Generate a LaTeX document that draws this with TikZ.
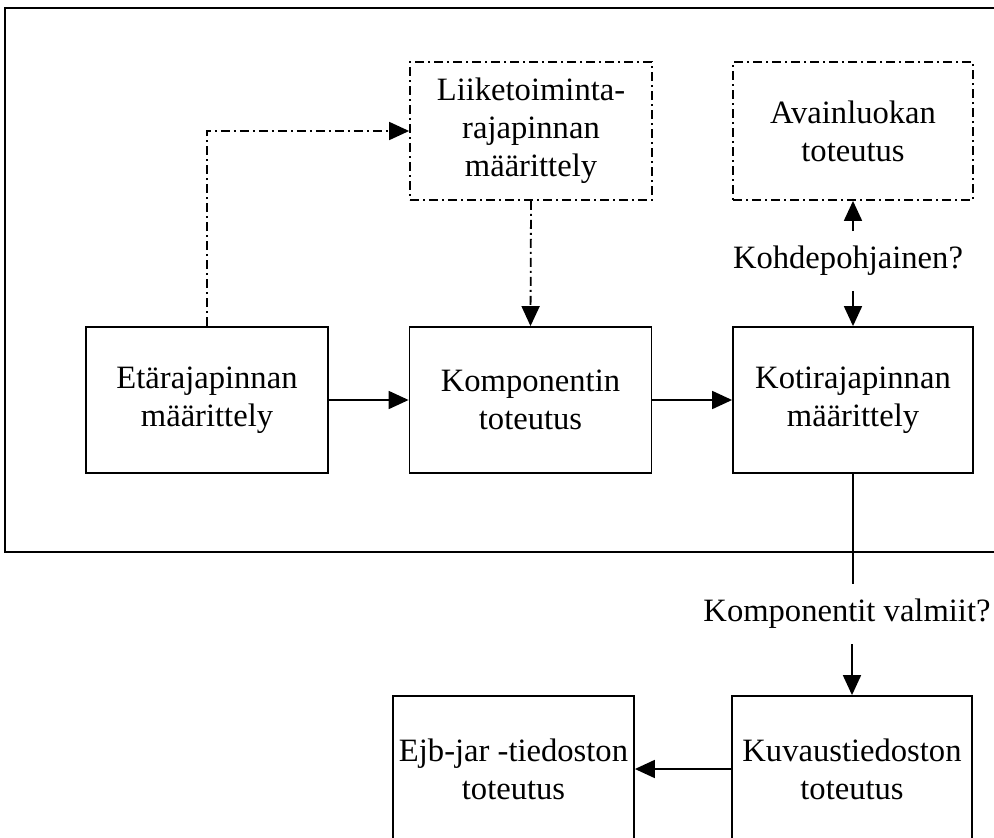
\documentclass[tikz,border=0pt]{standalone}
\usepackage{fontspec}
\setmainfont{Liberation Serif}
\usetikzlibrary{arrows.meta}
\begin{document}
\begin{tikzpicture}[x=1pt, y=-1pt,
  line width=1.8pt,
  every node/.style={font=\fontsize{32.6}{38}\selectfont, align=center},
  stepbox/.style={draw, minimum width=242pt, minimum height=146pt, inner sep=0pt},
  ddline/.style={dash pattern=on 9pt off 4pt on 2pt off 4pt},
  optbox/.style={stepbox, ddline, minimum height=138pt},
  flow/.style={-{Triangle[length=20pt,width=18pt]}},
  question/.style={inner sep=0pt}]
  \clip (0,0) rectangle (994,838);

  % frame around the component phase (open on the right)
  \draw (1000,8) -- (5,8) -- (5,552) -- (1000,552);

  % process steps
  \node[stepbox] (etae)   at (207,400)   {Etärajapinnan\\määrittely};
  \node[stepbox] (komp)   at (530.5,400) {Komponentin\\toteutus};
  \node[stepbox, minimum width=240pt] (koti) at (853,400) {Kotirajapinnan\\määrittely};
  \node[optbox]  (liike)  at (531,131)   {Liiketoiminta-\\rajapinnan\\määrittely};
  \node[optbox, minimum width=240pt] (avain) at (853,131) {Avainluokan\\toteutus};
  \node[stepbox, minimum width=240pt] (kuvaus) at (852,769) {Kuvaustiedoston\\toteutus};
  \node[stepbox, minimum width=241pt] (ejb) at (513.5,769) {Ejb-jar -tiedoston\\toteutus};

  % decision labels
  \node[question, minimum height=58pt] (kohde)   at (848,261)   {Kohdepohjainen?};
  \node[question, minimum height=59pt] (valmiit) at (847,614)   {Komponentit valmiit?};

  % optional (dash-dotted) flows
  \draw[ddline, flow] (etae.north) |- (liike.west);
  \draw[ddline, flow] (liike.south) -- (komp.north);

  % main flow
  \draw[flow] (etae) -- (komp);
  \draw[flow] (komp) -- (koti);
  \draw[flow] (kohde.north -| avain.south) -- (avain.south);
  \draw[flow] (kohde.south -| koti.north) -- (koti.north);
  \draw (koti.south) -- (valmiit.north -| koti.south);
  \draw[flow] (valmiit.south -| kuvaus.north) -- (kuvaus.north);
  \draw[flow] (kuvaus) -- (ejb);
\end{tikzpicture}
\end{document}
